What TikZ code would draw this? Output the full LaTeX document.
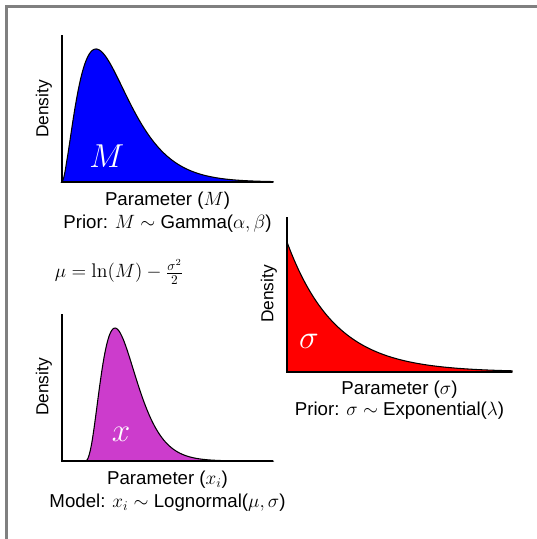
\documentclass[tikz,border=0pt]{standalone}
\usepackage{fontspec}
\newfontfamily\labelsans{Liberation Sans}
\usepackage{xcolor}
\usepackage{tikz}
\usetikzlibrary{
  positioning
}
\definecolor{gammablue}{RGB}{0,0,255}
\definecolor{expred}{RGB}{255,0,0}
\definecolor{lognpurple}{RGB}{204,60,204}
\definecolor{framegray}{RGB}{128,128,128}
\tikzset{
  axisline/.style={line width=1.5pt,line join=miter},
  densline/.style={draw=black,line width=0.8pt},
  denslabel/.style={rotate=90,inner sep=0pt,font=\labelsans\fontsize{13}{15}\selectfont},
  paramlabel/.style={inner sep=0pt,align=center,font=\labelsans\fontsize{14}{16}\selectfont},
  symlabel/.style={text=white,inner sep=0pt,font=\fontsize{24}{28}\selectfont},
  eqlabel/.style={inner sep=0pt,font=\fontsize{14.8}{18}\selectfont}
}

\begin{document}
\begin{tikzpicture}[x=0.75pt,y=-0.75pt]
    \useasboundingbox (0,0) rectangle (536,539);
    \draw[framegray,line width=2.25pt] (6.5,545) -- (6.5,6.5) -- (545,6.5);

    \coordinate (gammaorig) at (62,182);
    \coordinate (gammatop) at (62,35);
    \coordinate (gammaend) at (273,182);
    \filldraw[densline,fill=gammablue] (gammaorig)
      -- plot[domain=0.3:211,samples=150] ({62+\x},{182-133*exp(1.7*(ln(\x/34)+1-\x/34))})
      -- (gammaend) -- cycle;
    \draw[axisline] (gammatop) -- (gammaorig) -- (gammaend);

    \coordinate (exporig) at (287,372);
    \coordinate (exptop) at (287,217);
    \coordinate (expend) at (512,372);
    \filldraw[densline,fill=expred] (exporig)
      -- plot[domain=0:225,samples=150] ({287+\x},{372-130*exp(-\x/48)})
      -- (expend) -- cycle;
    \draw[axisline] (exptop) -- (exporig) -- (expend);

    \coordinate (lognorig) at (62,461);
    \coordinate (logntop) at (62,314);
    \coordinate (lognend) at (273,461);
    \filldraw[densline,fill=lognpurple] (lognorig) -- (85,461)
      -- plot[domain=0.3:188,samples=150] ({85+\x},{461-133*exp(2.8*(ln(\x/30)+1-\x/30))})
      -- (lognend) -- cycle;
    \draw[axisline] (logntop) -- (lognorig) -- (lognend);

    \node[symlabel] (gammasym) at (106.7,156) {$M$};
    \node[symlabel] (expsym) at (309,341) {$\sigma$};
    \node[symlabel] (lognsym) at (121,434) {$x$};

    \node[denslabel] (gammadens) at (44,109) {Density};
    \node[denslabel] (expdens) at (269,294) {Density};
    \node[denslabel] (logndens) at (44,387) {Density};

    \node[paramlabel,anchor=base] (gammaparam) at (167.5,205.3) {Parameter ($M$)};
    \node[paramlabel,below=4pt of gammaparam] (gammaprior) {Prior: $M \sim$ Gamma($\alpha, \beta$)};
    \node[paramlabel,anchor=base] (expparam) at (399.5,394) {Parameter ($\sigma$)};
    \node[paramlabel,below=3pt of expparam] (expprior) {Prior: $\sigma \sim$ Exponential($\lambda$)};
    \node[paramlabel,anchor=base] (lognparam) at (167.5,484.3) {Parameter ($x_i$)};
    \node[paramlabel,below=4pt of lognparam] (lognmodel) {Model: $x_i \sim$ Lognormal($\mu, \sigma$)};

    \node[eqlabel] (mueq) at (119,272) {$\mu = \ln(M) - \frac{\sigma^2}{2}$};
\end{tikzpicture}
\end{document}
